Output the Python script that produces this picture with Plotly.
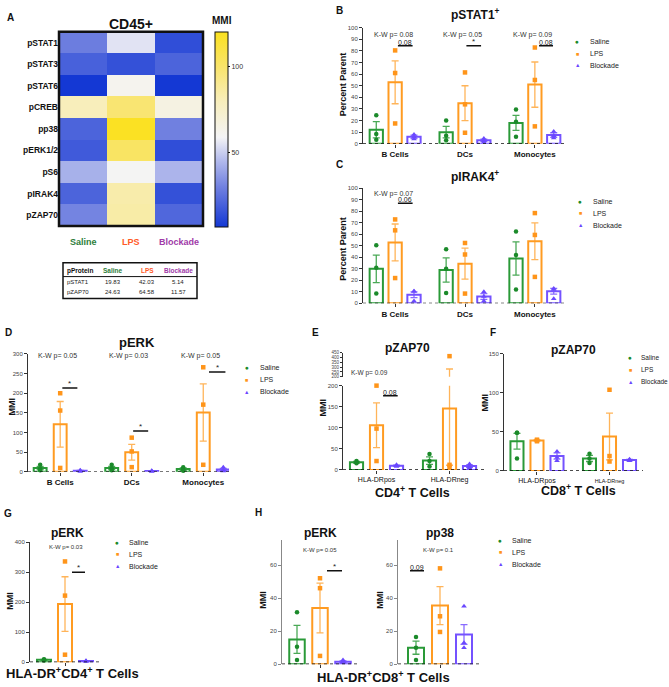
import plotly.graph_objects as go

W, H = 669, 687
FONT = "Arial, Liberation Sans, sans-serif"


def X(px):
    return px / W


def Y(py):
    return 1 - py / H


CONDITIONS = ["Saline", "LPS", "Blockade"]
BAR_COLORS = {"Saline": "#2a9a38", "LPS": "#ff9b21", "Blockade": "#7452ff"}
ERR_COLORS = {"Saline": "rgba(42,154,56,0.85)", "LPS": "rgba(255,155,33,0.75)",
              "Blockade": "rgba(116,82,255,0.85)"}
PT_COLORS = {"Saline": "#1b8a2a", "LPS": "#ff951a", "Blockade": "#6a48ff"}
SYMBOLS = {"Saline": "circle", "LPS": "square", "Blockade": "triangle-up"}
GLYPHS = {"Saline": "●", "LPS": "■", "Blockade": "▲"}
LABEL_COLORS = {"Saline": "#2e7d3a", "LPS": "#ff5a28", "Blockade": "#a03aa8"}

# ---- A: CD45+ heatmap (MMI) ----
PROTEINS = ["pSTAT1", "pSTAT3", "pSTAT6", "pCREB", "pp38", "pERK1/2", "pS6", "pIRAK4", "pZAP70"]
HEAT_SALINE = [29, 20, 7, 80, 21, 18, 43, 21, 31]
HEAT_LPS = [55, 15, 62, 98, 119, 102, 60, 84, 85]
HEAT_BLOCKADE = [14, 21, 7, 66, 30, 14, 44, 15, 22]

TABLE_HEADER = ["pProtein", "Saline", "LPS", "Blockade"]
TABLE_PROTEINS = ["pSTAT1", "pZAP70"]
TABLE_SALINE = ["19.83", "24.63"]
TABLE_LPS = ["42.03", "64.58"]
TABLE_BLOCKADE = ["5.14", "11.57"]

# ---- B: pSTAT1+ (percent parent) ----
CELL_GROUPS = ["B Cells", "DCs", "Monocytes"]
B_MEAN_SALINE = [12, 10, 18]
B_SEM_SALINE = [7, 5, 6.5]
B_MEAN_LPS = [53, 35, 51]
B_SEM_LPS = [18.5, 15, 19.5]
B_MEAN_BLOCK = [6, 3, 7.5]
B_SEM_BLOCK = [1.5, 1, 2]
B_PTS_SALINE = [[24.5, 8.5, 3.5], [20, 7, 3], [29.5, 19, 6]]
B_PTS_LPS = [[80.5, 61, 17.5], [61.5, 34, 9.5], [83, 55, 15]]
B_PTS_BLOCK = [[8, 6, 4], [4.5, 2.5, 1.5], [10.5, 7, 5]]

# ---- C: pIRAK4+ ----
C_MEAN_SALINE = [30, 29, 39]
C_SEM_SALINE = [12, 10.5, 14.5]
C_MEAN_LPS = [53, 34.5, 54]
C_SEM_LPS = [16, 13.5, 16]
C_MEAN_BLOCK = [7.5, 6, 10.5]
C_SEM_BLOCK = [2.5, 2.5, 2.5]
C_PTS_SALINE = [[50.5, 31, 8.5], [47, 30, 9], [62.5, 42, 12]]
C_PTS_LPS = [[73, 63.5, 22], [52.5, 42.5, 8.5], [78.5, 59.5, 23]]
C_PTS_BLOCK = [[10.5, 10.5, 2], [10, 6, 2], [13, 12, 4]]

# ---- D: pERK (MMI) ----
D_MEAN_SALINE = [10, 10, 7]
D_SEM_SALINE = [4, 4, 3]
D_MEAN_LPS = [121, 50, 151]
D_SEM_LPS = [58, 20, 73]
D_MEAN_BLOCK = [3, 2, 6]
D_SEM_BLOCK = [1, 0.6, 3]
D_PTS_SALINE = [[18, 8, 4], [18, 9, 4], [12, 6, 3]]
D_PTS_LPS = [[200, 156, 10], [87, 52, 12], [266, 171, 18]]
D_PTS_BLOCK = [[4, 3, 1], [3, 2, 1], [12, 5, 2]]

# ---- E: pZAP70, CD4+ T cells ----
HLA_GROUPS = ["HLA-DRpos", "HLA-DRneg"]
E_MEAN_SALINE = [18, 22]
E_SEM_SALINE = [2, 9]
E_MEAN_LPS = [106, 146]
E_SEM_LPS = [53, 135]
E_MEAN_BLOCK = [10, 9]
E_SEM_BLOCK = [1.5, 3]
E_PTS_SALINE = [[21, 18, 16], [38, 21, 8]]
E_PTS_LPS = [[200, 98, 21], [416, 12, 7]]
E_PTS_BLOCK = [[12, 10, 8], [14, 8, 5]]

# ---- F: pZAP70, CD8+ T cells ----
F_MEAN_SALINE = [38, 16]
F_SEM_SALINE = [10, 4]
F_MEAN_LPS = [39, 44]
F_SEM_LPS = [0.6, 30]
F_MEAN_BLOCK = [19, 14]
F_SEM_BLOCK = [4, 0.7]
F_PTS_SALINE = [[49, 49, 16], [22, 16, 10]]
F_PTS_LPS = [[40, 39, 38], [104, 19, 12]]
F_PTS_BLOCK = [[25, 17, 13], [15, 14, 13]]

# ---- G: pERK, HLA-DR+CD4+ ----
G_MEAN_SALINE, G_SEM_SALINE, G_PTS_SALINE = [8], [1.5], [[10, 8, 6]]
G_MEAN_LPS, G_SEM_LPS, G_PTS_LPS = [194], [91], [[336, 222, 25]]
G_MEAN_BLOCK, G_SEM_BLOCK, G_PTS_BLOCK = [4], [1], [[5, 4, 2]]

# ---- H: pERK and pp38, HLA-DR+CD8+ ----
HE_MEAN_SALINE, HE_SEM_SALINE, HE_PTS_SALINE = [15], [8.5], [[31.5, 10.5, 2.5]]
HE_MEAN_LPS, HE_SEM_LPS, HE_PTS_LPS = [34], [15], [[52, 46, 5]]
HE_MEAN_BLOCK, HE_SEM_BLOCK, HE_PTS_BLOCK = [1.5], [0.5], [[2.5, 1.5, 0.8]]
HP_MEAN_SALINE, HP_SEM_SALINE, HP_PTS_SALINE = [10], [4], [[16.5, 10, 2.5]]
HP_MEAN_LPS, HP_SEM_LPS, HP_PTS_LPS = [35.5], [11.5], [[58, 29, 19.5]]
HP_MEAN_BLOCK, HP_SEM_BLOCK, HP_PTS_BLOCK = [18], [6], [[35, 13, 10]]


def ref(n):
    return ("x", "y") if n == 1 else (f"x{n}", f"y{n}")


fig = go.Figure()
annotations = []
shapes = []


def text(px, py, s, size=7, color="#222", bold=False, xanchor="center", yanchor="middle", angle=0):
    annotations.append(dict(
        x=X(px), y=Y(py), xref="paper", yref="paper", showarrow=False,
        text=f"<b>{s}</b>" if bold else s, textangle=angle,
        font=dict(size=size, color=color, family=FONT),
        xanchor=xanchor, yanchor=yanchor))


def setup_axes(n, xpx, ypx, xrange, yrange, centers, ticktext, ytickvals,
               xfont=8, xbold=True, ytickfont=6, ylinecolor="#333"):
    xa = "xaxis" if n == 1 else f"xaxis{n}"
    ya = "yaxis" if n == 1 else f"yaxis{n}"
    xdict = dict(domain=[X(xpx[0]), X(xpx[1])], range=xrange, anchor=ref(n)[1],
                 tickvals=centers, showgrid=False, zeroline=False,
                 showline=False, ticks="outside", ticklen=3, tickcolor="#333",
                 tickfont=dict(size=xfont, color="#111", family=FONT))
    if ticktext:
        xdict["ticktext"] = [f"<b>{t}</b>" if xbold else t for t in ticktext]
    else:
        xdict["showticklabels"] = False
    fig.update_layout(**{
        xa: xdict,
        ya: dict(domain=[Y(ypx[1]), Y(ypx[0])], range=yrange, anchor=ref(n)[0],
                 tickvals=ytickvals, showgrid=False, zeroline=False, showline=True,
                 linecolor=ylinecolor, linewidth=1, ticks="outside", ticklen=3,
                 tickcolor=ylinecolor, tickfont=dict(size=ytickfont, color="#444", family=FONT)),
    })
    shapes.append(dict(type="line", xref=f"{ref(n)[0]} domain", yref=ref(n)[1],
                       x0=0, x1=1, y0=0, y1=0, line=dict(color="#111", width=1.4, dash="dot")))


def add_bars(n, centers, means, sems, points, offset, width, split=None):
    xa, ya = ref(n)
    for k, cond in enumerate(CONDITIONS):
        xs = [c + (k - 1) * offset for c in centers]
        fig.add_trace(go.Bar(
            x=xs, y=means[k], width=width, xaxis=xa, yaxis=ya,
            marker=dict(color="white", line=dict(color=BAR_COLORS[cond], width=2)),
            error_y=dict(type="data", array=sems[k], color=ERR_COLORS[cond], thickness=1.3, width=3.5),
            showlegend=False, hoverinfo="skip"))
    for k, cond in enumerate(CONDITIONS):
        px_, py_ = [], []
        for c, pts in zip(centers, points[k]):
            for p in pts:
                if split is None or p <= split:
                    px_.append(c + (k - 1) * offset)
                    py_.append(p)
        fig.add_trace(go.Scatter(
            x=px_, y=py_, mode="markers", xaxis=xa, yaxis=ya, cliponaxis=False,
            marker=dict(symbol=SYMBOLS[cond], size=4.5 if cond != "Blockade" else 5,
                        color=PT_COLORS[cond], line=dict(width=0)),
            showlegend=False, hoverinfo="skip"))


def add_sig(n, center, x0, x1, yval, label):
    xa, ya = ref(n)
    shapes.append(dict(type="line", xref=xa, yref=ya, x0=center + x0, x1=center + x1,
                       y0=yval, y1=yval, line=dict(color="#111", width=1.5)))
    annotations.append(dict(x=center + (x0 + x1) / 2, y=yval, xref=xa, yref=ya, showarrow=False,
                            text=label, yanchor="bottom", xanchor="center", yshift=-2,
                            font=dict(size=8 if label == "*" else 7, color="#222", family=FONT)))


def add_legend(mx, tx, y0, size=7):
    for i, cond in enumerate(CONDITIONS):
        text(mx, y0 + 12 * i, GLYPHS[cond], size=5.5 if cond != "Saline" else 6.5, color=PT_COLORS[cond])
        text(tx, y0 + 12 * i, cond, size=size, color="#222", xanchor="left")


# ================= A: heatmap =================
z = [list(r) for r in zip(HEAT_SALINE, HEAT_LPS, HEAT_BLOCKADE)]
zmin, zmax = 7, 120
stops = [(7, "#1438d4"), (30, "#7080e0"), (45, "#b0b8ec"), (59, "#f4f4f6"),
         (80, "#f8eebb"), (100, "#f9e46a"), (120, "#fbe11f")]
colorscale = [[(v - zmin) / (zmax - zmin), c] for v, c in stops]
fig.add_trace(go.Heatmap(
    z=z, x=CONDITIONS, y=PROTEINS, zmin=zmin, zmax=zmax, colorscale=colorscale,
    xgap=0, ygap=0, hoverinfo="skip",
    colorbar=dict(x=X(215), xanchor="left", y=Y(127.5), yanchor="middle",
                  len=195, lenmode="pixels", thickness=13, thicknessmode="pixels",
                  outlinewidth=1, outlinecolor="#111", tickvals=[50, 100],
                  ticks="outside", ticklen=2, tickcolor="#111", xpad=0, ypad=0,
                  tickfont=dict(size=7, color="#333", family=FONT))))
fig.update_layout(
    xaxis=dict(domain=[X(59), X(203)], showticklabels=False, ticks="", showgrid=False,
               zeroline=False, anchor="y"),
    yaxis=dict(domain=[Y(225), Y(29)], autorange="reversed", showgrid=False, zeroline=False,
               ticks="", anchor="x", ticktext=[f"<b>{p}</b>" for p in PROTEINS], tickvals=PROTEINS,
               tickfont=dict(size=8.5, color="#111", family=FONT)),
)
shapes.append(dict(type="rect", xref="x domain", yref="y domain", x0=0, x1=1, y0=0, y1=1,
                   line=dict(color="#111", width=2.5)))
for cond in CONDITIONS:
    annotations.append(dict(x=cond, y=Y(241), xref="x", yref="paper", showarrow=False,
                            text=f"<b>{cond}</b>", font=dict(size=9, color=LABEL_COLORS[cond], family=FONT)))
text(10, 15, "A", size=10, bold=True, color="#111")
text(131, 21, "CD45+", size=14, bold=True, color="#111")
text(222, 18, "MMI", size=10, bold=True, color="#111")

# table under the heatmap
shapes.append(dict(type="rect", xref="paper", yref="paper", x0=X(63), x1=X(197), y0=Y(298), y1=Y(262),
                   line=dict(color="#111", width=1.5)))
shapes.append(dict(type="line", xref="paper", yref="paper", x0=X(63), x1=X(197), y0=Y(276), y1=Y(276),
                   line=dict(color="#111", width=1)))
col_x = [65, 113, 147, 178]
head_colors = ["#111", LABEL_COLORS["Saline"], LABEL_COLORS["LPS"], LABEL_COLORS["Blockade"]]
for i, h in enumerate(TABLE_HEADER):
    text(col_x[i], 270, h, size=6.5, bold=True, color=head_colors[i],
         xanchor="left" if i == 0 else "center")
for r, row in enumerate(zip(TABLE_PROTEINS, TABLE_SALINE, TABLE_LPS, TABLE_BLOCKADE)):
    for i, cell in enumerate(row):
        text(col_x[i], 281 + 10.5 * r, cell, size=6, color="#222",
             xanchor="left" if i == 0 else "center")

# ================= B =================
setup_axes(2, (363, 567), (25, 142), [0.54, 3.46], [0, 100], [1, 2, 3], CELL_GROUPS,
           list(range(0, 101, 10)))
add_bars(2, [1, 2, 3], [B_MEAN_SALINE, B_MEAN_LPS, B_MEAN_BLOCK],
         [B_SEM_SALINE, B_SEM_LPS, B_SEM_BLOCK], [B_PTS_SALINE, B_PTS_LPS, B_PTS_BLOCK], 0.27, 0.19)
text(339, 8, "B", size=10, bold=True, color="#111")
text(475, 11, "pSTAT1<sup>+</sup>", size=12, bold=True, color="#111")
text(343, 82, "Percent Parent", size=9, bold=True, color="#111", angle=-90)
for c, p in zip([1, 2, 3], ["0.08", "0.05", "0.09"]):
    annotations.append(dict(x=c - 0.03, y=Y(26), xref="x2", yref="paper", showarrow=False,
                            text=f"K-W p= {p}", font=dict(size=7, color="#333", family=FONT)))
add_sig(2, 1, 0.04, 0.25, 84.5, "0.08")
add_sig(2, 2, 0.02, 0.23, 84.5, "*")
add_sig(2, 3, 0.06, 0.26, 84.5, "0.08")
add_legend(577, 588, 39)

# ================= C =================
setup_axes(3, (363, 567), (187, 303), [0.54, 3.46], [0, 100], [1, 2, 3], CELL_GROUPS,
           list(range(0, 101, 10)))
add_bars(3, [1, 2, 3], [C_MEAN_SALINE, C_MEAN_LPS, C_MEAN_BLOCK],
         [C_SEM_SALINE, C_SEM_LPS, C_SEM_BLOCK], [C_PTS_SALINE, C_PTS_LPS, C_PTS_BLOCK], 0.27, 0.19)
text(339, 163, "C", size=10, bold=True, color="#111")
text(475, 175, "pIRAK4<sup>+</sup>", size=12, bold=True, color="#111")
text(343, 248, "Percent Parent", size=9, bold=True, color="#111", angle=-90)
annotations.append(dict(x=0.97, y=Y(187), xref="x3", yref="paper", showarrow=False,
                        text="K-W p= 0.07", font=dict(size=7, color="#333", family=FONT)))
add_sig(3, 1, 0.04, 0.25, 87, "0.06")
add_legend(580, 591, 200)

# ================= D =================
setup_axes(4, (28, 229), (354, 473), [0.55, 3.36], [0, 300], [1, 2, 3], CELL_GROUPS,
           list(range(0, 301, 50)))
add_bars(4, [1, 2, 3], [D_MEAN_SALINE, D_MEAN_LPS, D_MEAN_BLOCK],
         [D_SEM_SALINE, D_SEM_LPS, D_SEM_BLOCK], [D_PTS_SALINE, D_PTS_LPS, D_PTS_BLOCK], 0.28, 0.18)
text(8, 332, "D", size=10, bold=True, color="#111")
text(137, 342, "pERK", size=13, bold=True, color="#111")
text(12, 407, "MMI", size=9, bold=True, color="#111", angle=-90)
for c, p in zip([1, 2, 3], ["0.05", "0.03", "0.05"]):
    annotations.append(dict(x=c - 0.04, y=Y(356), xref="x4", yref="paper", showarrow=False,
                            text=f"K-W p= {p}", font=dict(size=7, color="#333", family=FONT)))
add_sig(4, 1, 0.03, 0.24, 213, "*")
add_sig(4, 2, 0.02, 0.23, 104, "*")
add_sig(4, 3, 0.08, 0.31, 254, "*")
add_legend(247, 258, 368)

# ================= E (broken axis) =================
setup_axes(5, (343, 485), (386, 471), [0.541, 2.486], [0, 200], [1, 2], HLA_GROUPS,
           list(range(0, 201, 50)), xfont=7, xbold=False)
add_bars(5, [1, 2], [E_MEAN_SALINE, E_MEAN_LPS, E_MEAN_BLOCK],
         [E_SEM_SALINE, E_SEM_LPS, E_SEM_BLOCK], [E_PTS_SALINE, E_PTS_LPS, E_PTS_BLOCK],
         0.274, 0.18, split=200)
fig.update_layout(yaxis10=dict(domain=[Y(377), Y(353)], range=[200, 450], anchor="x5",
                               tickvals=list(range(200, 451, 50)), showgrid=False, zeroline=False,
                               showline=True, linecolor="#333", linewidth=1, ticks="outside",
                               ticklen=2, tickcolor="#333",
                               tickfont=dict(size=4.5, color="#444", family=FONT)))
# LPS continuation into the upper segment
for k, cond in enumerate(CONDITIONS):
    means = [E_MEAN_SALINE, E_MEAN_LPS, E_MEAN_BLOCK][k]
    sems = [E_SEM_SALINE, E_SEM_LPS, E_SEM_BLOCK][k]
    pts = [E_PTS_SALINE, E_PTS_LPS, E_PTS_BLOCK][k]
    xs = [c + (k - 1) * 0.274 for c in [1, 2]]
    fig.add_trace(go.Scatter(x=xs, y=means, mode="markers", xaxis="x5", yaxis="y10",
                             marker=dict(size=1, opacity=0),
                             error_y=dict(type="data", array=sems, color=ERR_COLORS[cond],
                                          thickness=1.3, width=3.5),
                             showlegend=False, hoverinfo="skip"))
    hx, hy = [], []
    for x_, grp in zip(xs, pts):
        for p in grp:
            if p > 200:
                hx.append(x_)
                hy.append(p)
    fig.add_trace(go.Scatter(x=hx, y=hy, mode="markers", xaxis="x5", yaxis="y10", cliponaxis=False,
                             marker=dict(symbol=SYMBOLS[cond], size=4.5, color=PT_COLORS[cond]),
                             showlegend=False, hoverinfo="skip"))
text(315, 332, "E", size=10, bold=True, color="#111")
text(407, 348, "pZAP70", size=12, bold=True, color="#111")
text(323, 408, "MMI", size=9, bold=True, color="#111", angle=-90)
annotations.append(dict(x=0.91, y=Y(373), xref="x5", yref="paper", showarrow=False,
                        text="K-W p= 0.09", font=dict(size=6.5, color="#333", family=FONT)))
add_sig(5, 1, 0.09, 0.29, 176, "0.08")
text(412, 493, "CD4<sup>+</sup> T Cells", size=12.5, bold=True, color="#111")

# ================= F =================
setup_axes(6, (504, 643), (354, 472), [0.545, 2.462], [0, 150], [1, 2],
           ["HLA-DRpos", "<span style='font-size:5.5px'>HLA-DRneg</span>"],
           [0, 50, 100, 150], xfont=7, xbold=False)
add_bars(6, [1, 2], [F_MEAN_SALINE, F_MEAN_LPS, F_MEAN_BLOCK],
         [F_SEM_SALINE, F_SEM_LPS, F_SEM_BLOCK], [F_PTS_SALINE, F_PTS_LPS, F_PTS_BLOCK], 0.276, 0.18)
text(493, 332, "F", size=10, bold=True, color="#111")
text(573, 350, "pZAP70", size=12, bold=True, color="#111")
text(485, 403, "MMI", size=9, bold=True, color="#111", angle=-90)
text(578, 491, "CD8<sup>+</sup> T Cells", size=12.5, bold=True, color="#111")
add_legend(630, 639, 358, size=6.5)

# ================= G =================
setup_axes(7, (30, 100), (544, 665), [0.65, 1.35], [0, 400], [1], None,
           [0, 100, 200, 300, 400])
add_bars(7, [1], [G_MEAN_SALINE, G_MEAN_LPS, G_MEAN_BLOCK],
         [G_SEM_SALINE, G_SEM_LPS, G_SEM_BLOCK], [G_PTS_SALINE, G_PTS_LPS, G_PTS_BLOCK], 0.21, 0.14)
text(8, 515, "G", size=10, bold=True, color="#111")
text(67, 535, "pERK", size=12, bold=True, color="#111")
text(66, 549, "K-W p= 0.03", size=6, color="#333")
text(10, 603, "MMI", size=9, bold=True, color="#111", angle=-90)
add_sig(7, 1, 0.07, 0.20, 300, "*")
add_legend(117, 127, 544)
text(72, 676, "HLA-DR<sup>+</sup>CD4<sup>+</sup> T Cells", size=13, bold=True, color="#111")

# ================= H =================
setup_axes(8, (282, 358), (542, 667), [0.62, 1.38], [0, 75], [1], None, [0, 20, 40, 60],
           ylinecolor="#888")
add_bars(8, [1], [HE_MEAN_SALINE, HE_MEAN_LPS, HE_MEAN_BLOCK],
         [HE_SEM_SALINE, HE_SEM_LPS, HE_SEM_BLOCK], [HE_PTS_SALINE, HE_PTS_LPS, HE_PTS_BLOCK],
         0.23, 0.155)
setup_axes(9, (398, 479), (542, 667), [0.58, 1.39], [0, 75], [1], None, [0, 20, 40, 60],
           ylinecolor="#888")
add_bars(9, [1], [HP_MEAN_SALINE, HP_MEAN_LPS, HP_MEAN_BLOCK],
         [HP_SEM_SALINE, HP_SEM_LPS, HP_SEM_BLOCK], [HP_PTS_SALINE, HP_PTS_LPS, HP_PTS_BLOCK],
         0.24, 0.16)
text(258, 514, "H", size=10, bold=True, color="#111")
text(320, 535, "pERK", size=12, bold=True, color="#111")
text(440, 535, "pp38", size=12, bold=True, color="#111")
text(320, 552, "K-W p= 0.05", size=6, color="#333")
text(438, 552, "K-W p= 0.1", size=6, color="#333")
text(263, 602, "MMI", size=9, bold=True, color="#111", angle=-90)
text(380, 602, "MMI", size=9, bold=True, color="#111", angle=-90)
add_sig(8, 1, 0.07, 0.22, 56.5, "*")
add_sig(9, 1, -0.30, -0.16, 56.5, "0.09")
add_legend(500, 510, 542)
text(383, 680, "HLA-DR<sup>+</sup>CD8<sup>+</sup> T Cells", size=13, bold=True, color="#111")

fig.update_layout(
    width=W, height=H, margin=dict(l=0, r=0, t=0, b=0),
    paper_bgcolor="white", plot_bgcolor="white", showlegend=False,
    font=dict(family=FONT, color="#111"),
    annotations=annotations, shapes=shapes,
)

fig.write_html("out.html", config={"displayModeBar": False},
               post_script="document.body.style.margin='0';document.body.style.overflow='hidden';")
